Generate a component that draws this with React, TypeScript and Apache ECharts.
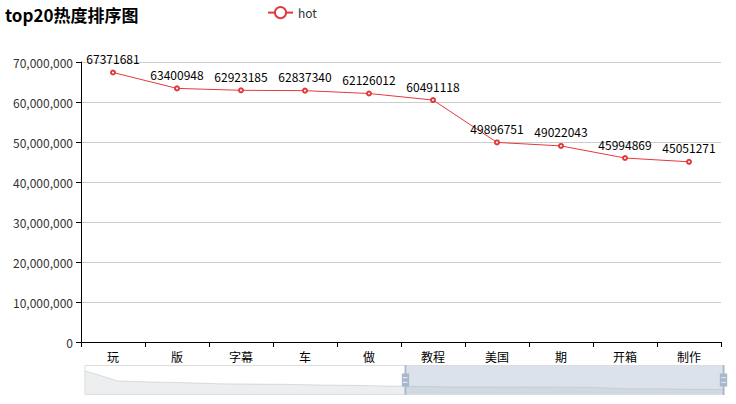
import React, { useEffect, useRef } from "react";
import * as echarts from "echarts";

const categories = [
  "游戏", "视频", "原创", "搞笑", "音乐", "动画", "日常", "生活", "鬼畜", "手机",
  "玩", "版", "字幕", "车", "做", "教程", "美国", "期", "开箱", "制作",
];
const hotValues = [
  190000000, 110000000, 102000000, 97000000, 88000000, 86000000, 84000000, 79000000, 76000000, 71000000,
  67371681, 63400948, 62923185, 62837340, 62126012, 60491118, 49896751, 49022043, 45994869, 45051271,
];
const seriesName = "hot";
const titleText = "top20热度排序图";

const FONT = "'Microsoft YaHei', 'Noto Sans CJK SC', sans-serif";
const RED = "#e4393c";

export default function App() {
  const ref = useRef<HTMLDivElement>(null);
  useEffect(() => {
    if (!ref.current) return;
    const chart = echarts.init(ref.current, null, { renderer: "svg" });
    chart.setOption({
      animation: false,
      textStyle: { fontFamily: FONT },
      title: {
        text: titleText,
        left: 0,
        top: 1,
        textStyle: { fontSize: 17, fontWeight: "bold", color: "#000", fontFamily: FONT },
      },
      legend: {
        data: [seriesName],
        left: 262,
        top: 1,
        itemWidth: 25,
        itemHeight: 14,
        textStyle: { color: "#333", fontSize: 12, fontFamily: FONT },
      },
      grid: { left: 81, right: 15, top: 62, bottom: 62, containLabel: false },
      xAxis: {
        type: "category",
        data: categories,
        boundaryGap: true,
        axisLine: { lineStyle: { color: "#000" } },
        axisTick: { show: true, interval: 0, alignWithLabel: false, lineStyle: { color: "#000" } },
        axisLabel: { interval: 0, color: "#000", fontSize: 12, fontFamily: FONT },
      },
      yAxis: {
        type: "value",
        axisLine: { show: true, lineStyle: { color: "#000" } },
        axisTick: { show: true, lineStyle: { color: "#000" } },
        axisLabel: { color: "#333", fontSize: 12, fontFamily: FONT },
        splitLine: { show: true, lineStyle: { color: "#ccc" } },
      },
      dataZoom: [
        {
          type: "slider",
          xAxisIndex: 0,
          start: 50,
          end: 100,
          left: 82,
          right: 14,
          top: 365,
          height: 30,
          showDetail: false,
          brushSelect: false,
          moveHandleSize: 0,
          moveHandleStyle: { opacity: 0 },
          borderColor: "#ddd",
          backgroundColor: "rgba(47,69,84,0)",
          fillerColor: "rgba(167,183,204,0.4)",
          handleIcon:
            "path://M8.2,13.6V3.9H6.3v9.7H3.1v14.9h3.3v9.7h1.8v-9.7h3.3V13.6H8.2z M9.7,24.4H4.8v-1.4h4.9V24.4z M9.7,19.1H4.8v-1.4h4.9V19.1z",
          handleSize: "100%",
          handleStyle: { color: "#a7b7cc", borderColor: "#a7b7cc", borderWidth: 0 },
          dataBackground: {
            lineStyle: { color: "#2f4554", width: 0.5, opacity: 0.3 },
            areaStyle: { color: "rgba(47,69,84,0.3)", opacity: 0.3 },
          },
          selectedDataBackground: {
            lineStyle: { color: "#2f4554", width: 0.5, opacity: 0.3 },
            areaStyle: { color: "rgba(47,69,84,0.3)", opacity: 0.3 },
          },
        },
      ],
      series: [
        {
          name: seriesName,
          type: "line",
          data: hotValues,
          symbol: "emptyCircle",
          symbolSize: 4,
          itemStyle: { color: RED },
          lineStyle: { color: RED, width: 1 },
          label: { show: true, position: "top", color: "#000", fontSize: 12, fontFamily: FONT },
        },
      ],
    });
    return () => chart.dispose();
  }, []);
  return (
    <div
      ref={ref}
      style={{ position: "fixed", left: 0, top: 0, width: 736, height: 404, background: "#fff" }}
    />
  );
}
